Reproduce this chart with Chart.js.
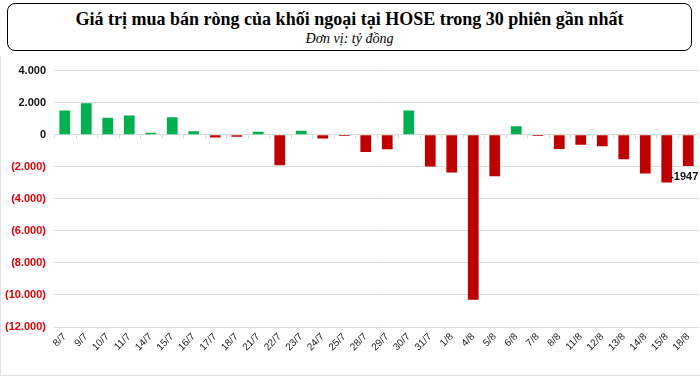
<!DOCTYPE html>
<html>
<head>
<meta charset="utf-8">
<script src="https://cdn.jsdelivr.net/npm/chart.js@4.4.1/dist/chart.umd.min.js"></script>
<style>
  body { margin: 0; background: #fff; }
  #khung { position: relative; width: 700px; height: 376px; overflow: hidden; }
  #tieuDe {
    position: absolute; left: 7px; top: 3px; width: 683px; height: 46px;
    border: 1.5px solid #000; border-radius: 8px; text-align: center;
    font-family: 'Liberation Serif', serif;
  }
  #tieuDe .chinh { font-weight: bold; font-size: 18px; margin-top: 5px; line-height: 20px; }
  #tieuDe .phu { font-style: italic; font-size: 14px; line-height: 16px; margin-top: 2px; }
  #vung { position: absolute; left: 0; top: 56px; width: 700px; height: 320px;
    border-left: 1px solid #e3e3e3; border-bottom: 1px solid #e3e3e3; box-sizing: border-box; }
</style>
</head>
<body>
<div id="khung">
  <div id="tieuDe">
    <div class="chinh">Giá trị mua bán ròng của khối ngoại tại HOSE trong 30 phiên gần nhất</div>
    <div class="phu">Đơn vị: tỷ đồng</div>
  </div>
  <div id="vung"><canvas id="grafico" width="699" height="319"></canvas></div>
</div>
<script>
const ngay = ['8/7', '9/7', '10/7', '11/7', '14/7', '15/7', '16/7', '17/7', '18/7', '21/7',
  '22/7', '23/7', '24/7', '25/7', '28/7', '29/7', '30/7', '31/7', '1/8', '4/8',
  '5/8', '6/8', '7/8', '8/8', '11/8', '12/8', '13/8', '14/8', '15/8', '18/8']

const giaTriRong = [1510, 1960, 1050, 1200, 125, 1095, 210, -170, -125, 190,
  -1900, 250, -230, -85, -1075, -905, 1515, -1980, -2360, -10300,
  -2590, 525, -85, -885, -630, -715, -1535, -2420, -2990, -1947]

const nhanCuoi = '-1947'

const XANH = '#00b050'
const DO = '#c00000'
const DO_CHU = '#e00000'

function dinhDangSo(v) {
  return String(Math.abs(v)).replace(/\B(?=(\d{3})+(?!\d))/g, '.')
}

// vạch nhỏ dưới đường 0 giữa các phiên
const vachTrucHoanh = {
  id: 'vachTrucHoanh',
  afterDatasetsDraw(chart) {
    const ctx = chart.ctx
    const x = chart.scales.x
    const y0 = chart.scales.y.getPixelForValue(0)
    ctx.save()
    ctx.strokeStyle = '#d9d9d9'
    ctx.lineWidth = 1
    for (let i = 0; i <= ngay.length; i++) {
      const px = Math.round(x.left + (x.right - x.left) * i / ngay.length) + 0.5
      ctx.beginPath()
      ctx.moveTo(px, y0)
      ctx.lineTo(px, y0 + 4)
      ctx.stroke()
    }
    ctx.restore()
  }
}

const nhanGiaTri = {
  id: 'nhanGiaTri',
  afterDatasetsDraw(chart) {
    const meta = chart.getDatasetMeta(0)
    const cot = meta.data[meta.data.length - 1]
    const ctx = chart.ctx
    ctx.save()
    ctx.font = 'bold 11px "Liberation Sans", Arial, sans-serif'
    ctx.fillStyle = '#111'
    ctx.textAlign = 'center'
    ctx.textBaseline = 'middle'
    ctx.fillText(nhanCuoi, cot.x - 4, cot.y + 11)
    ctx.restore()
  }
}

new Chart(document.getElementById('grafico'), {
  type: 'bar',
  data: {
    labels: ngay,
    datasets: [{
      data: giaTriRong,
      backgroundColor: giaTriRong.map((v) => v >= 0 ? XANH : DO),
      barPercentage: 0.5,
      categoryPercentage: 1
    }]
  },
  plugins: [vachTrucHoanh, nhanGiaTri],
  options: {
    responsive: false,
    animation: false,
    layout: { padding: { top: 12, right: 1, left: 0, bottom: 0 } },
    plugins: {
      legend: { display: false },
      tooltip: { enabled: false }
    },
    scales: {
      x: {
        grid: { display: false },
        border: { display: false },
        ticks: {
          minRotation: 45,
          maxRotation: 45,
          autoSkip: false,
          padding: -4,
          color: '#222',
          font: { family: '"Liberation Sans", Arial, sans-serif', size: 10 }
        },
        afterFit: (scale) => { scale.height = 48 }
      },
      y: {
        min: -12000,
        max: 4000,
        grid: { color: '#dcdcdc', drawTicks: false },
        border: { display: false },
        ticks: {
          stepSize: 2000,
          padding: 8,
          color: (c) => c.tick.value < 0 ? DO_CHU : '#111',
          font: { family: '"Liberation Sans", Arial, sans-serif', size: 11, weight: 'bold' },
          callback: (v) => v < 0 ? '(' + dinhDangSo(v) + ')' : dinhDangSo(v)
        },
        afterFit: (scale) => { scale.width = 53 }
      }
    }
  }
})
</script>
</body>
</html>
